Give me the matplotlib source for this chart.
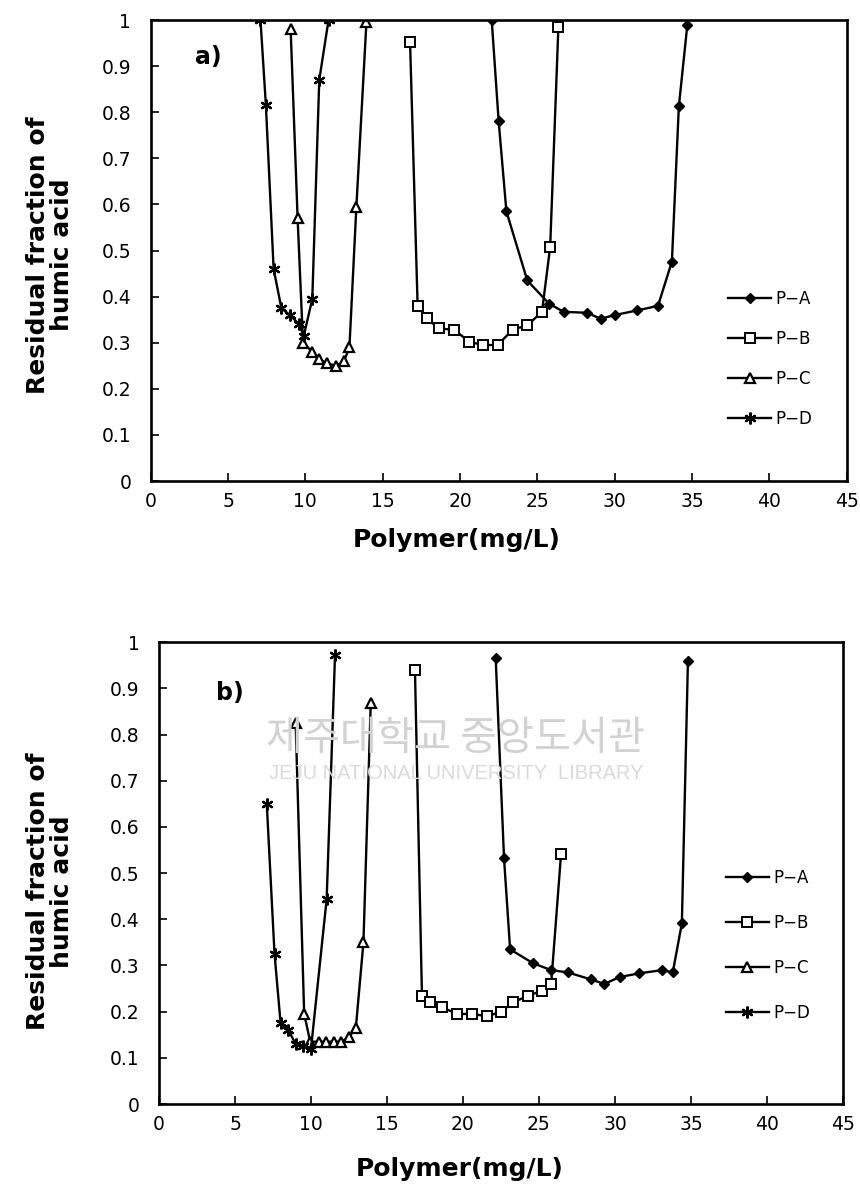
import matplotlib
matplotlib.use("Agg")
import matplotlib.pyplot as plt

plt.rcParams['font.family'] = ['DejaVu Sans']

# (a) data
a_pa_x = [22.05, 22.5, 23.0, 24.35, 25.75, 26.7, 28.2, 29.1, 30.0, 31.45, 32.8, 33.7, 34.15, 34.7]
a_pa_y = [1.0, 0.78, 0.585, 0.435, 0.385, 0.367, 0.365, 0.352, 0.36, 0.37, 0.38, 0.476, 0.813, 0.99]
a_pb_x = [16.77, 17.26, 17.85, 18.62, 19.63, 20.6, 21.5, 22.43, 23.4, 24.36, 25.3, 25.83, 26.36]
a_pb_y = [0.953, 0.38, 0.353, 0.331, 0.328, 0.302, 0.295, 0.295, 0.328, 0.338, 0.367, 0.508, 0.984]
a_pc_x = [9.05, 9.5, 9.85, 10.45, 10.9, 11.4, 12.0, 12.5, 12.85, 13.3, 13.95]
a_pc_y = [0.98, 0.57, 0.30, 0.28, 0.265, 0.255, 0.25, 0.26, 0.29, 0.595, 0.995]
a_pd_x = [7.1, 7.45, 7.95, 8.45, 9.0, 9.6, 9.9, 10.45, 10.9, 11.5]
a_pd_y = [1.0, 0.815, 0.46, 0.375, 0.36, 0.34, 0.315, 0.395, 0.87, 1.0]

# (b) data
b_pa_x = [22.15, 22.7, 23.1, 24.6, 25.8, 26.9, 28.4, 29.3, 30.3, 31.6, 33.1, 33.8, 34.4, 34.8]
b_pa_y = [0.967, 0.532, 0.335, 0.305, 0.29, 0.285, 0.27, 0.26, 0.275, 0.283, 0.29, 0.285, 0.391, 0.96]
b_pb_x = [16.84, 17.3, 17.8, 18.6, 19.6, 20.6, 21.6, 22.5, 23.3, 24.3, 25.2, 25.8, 26.45]
b_pb_y = [0.939, 0.235, 0.22, 0.21, 0.195, 0.195, 0.19, 0.2, 0.22, 0.235, 0.245, 0.26, 0.541]
b_pc_x = [8.99, 9.55, 9.95, 10.5, 11.0, 11.5, 12.0, 12.5, 12.95, 13.45, 13.93]
b_pc_y = [0.826, 0.195, 0.135, 0.135, 0.135, 0.135, 0.135, 0.145, 0.165, 0.35, 0.868]
b_pd_x = [7.09, 7.6, 8.0, 8.5, 9.0, 9.5, 10.0, 11.03, 11.58]
b_pd_y = [0.65, 0.325, 0.175, 0.16, 0.13, 0.125, 0.12, 0.444, 0.972]

labels = ['P\u2212A', 'P\u2212B', 'P\u2212C', 'P\u2212D']
yticks = [0, 0.1, 0.2, 0.3, 0.4, 0.5, 0.6, 0.7, 0.8, 0.9, 1]
ytick_labels = ['0', '0.1', '0.2', '0.3', '0.4', '0.5', '0.6', '0.7', '0.8', '0.9', '1']
xticks = [0, 5, 10, 15, 20, 25, 30, 35, 40, 45]

styles = [
    dict(marker='D', ms=5.5, mfc='black', mec='black'),
    dict(marker='s', ms=6.5, mfc='white', mec='black', mew=1.4),
    dict(marker='^', ms=7.5, mfc='white', mec='black', mew=1.6),
    dict(marker=(6, 2, 0), ms=8.5, mec='black', mew=1.6),
]

fig = plt.figure(figsize=(8.6, 11.93), dpi=100)
ax_a = fig.add_axes([0.1752, 0.5968, 0.8093, 0.3864])
ax_b = fig.add_axes([0.1849, 0.0746, 0.7953, 0.3870])


def draw(ax, series, tag, tag_xy, ylab_xy, xlab_y, leg_y, leg_sp):
    for (x, y), lab, st in zip(series, labels, styles):
        ax.plot(x, y, color='black', lw=1.7, label=lab, **st)
    ax.set_xlim(0, 45)
    ax.set_ylim(0, 1)
    ax.set_xticks(xticks)
    ax.set_yticks(yticks)
    ax.set_yticklabels(ytick_labels)
    ax.tick_params(direction='in', length=6, width=1.2, labelsize=13.5)
    ax.tick_params(axis='y', pad=14)
    ax.tick_params(axis='x', pad=8)
    for s in ax.spines.values():
        s.set_linewidth(1.9)
    ax.set_xlabel('Polymer(mg/L)', fontsize=18, fontweight='bold')
    ax.xaxis.set_label_coords(0.44, xlab_y)
    ax.set_ylabel('Residual fraction of\nhumic acid', fontsize=18, fontweight='bold', linespacing=1.0)
    ax.yaxis.set_label_coords(*ylab_xy)
    ax.text(tag_xy[0], tag_xy[1], tag, transform=ax.transAxes, fontsize=17,
            fontweight='bold', va='center')
    ax.legend(loc='center', bbox_to_anchor=(0.89, leg_y), frameon=False,
              handlelength=2.6, handletextpad=0.25, labelspacing=leg_sp, fontsize=12)


draw(ax_a, [(a_pa_x, a_pa_y), (a_pb_x, a_pb_y), (a_pc_x, a_pc_y), (a_pd_x, a_pd_y)],
     'a)', (0.064, 0.92), (-0.11, 0.49), -0.103, 0.265, 1.32)
draw(ax_b, [(b_pa_x, b_pa_y), (b_pb_x, b_pb_y), (b_pc_x, b_pc_y), (b_pd_x, b_pd_y)],
     'b)', (0.084, 0.89), (-0.125, 0.46), -0.115, 0.343, 1.62)

# library watermark
fig.text(0.53, 0.381, '제주대학교 중앙도서관', fontsize=29, color='#d2d2d2',
         family=['Noto Sans CJK KR', 'DejaVu Sans'], ha='center', va='center', zorder=0)
fig.text(0.53, 0.352, 'JEJU NATIONAL UNIVERSITY  LIBRARY', fontsize=14.5, color='#dadada',
         family=['Liberation Sans', 'DejaVu Sans'], ha='center', va='center', zorder=0)

fig.savefig('out.png', dpi=100)
